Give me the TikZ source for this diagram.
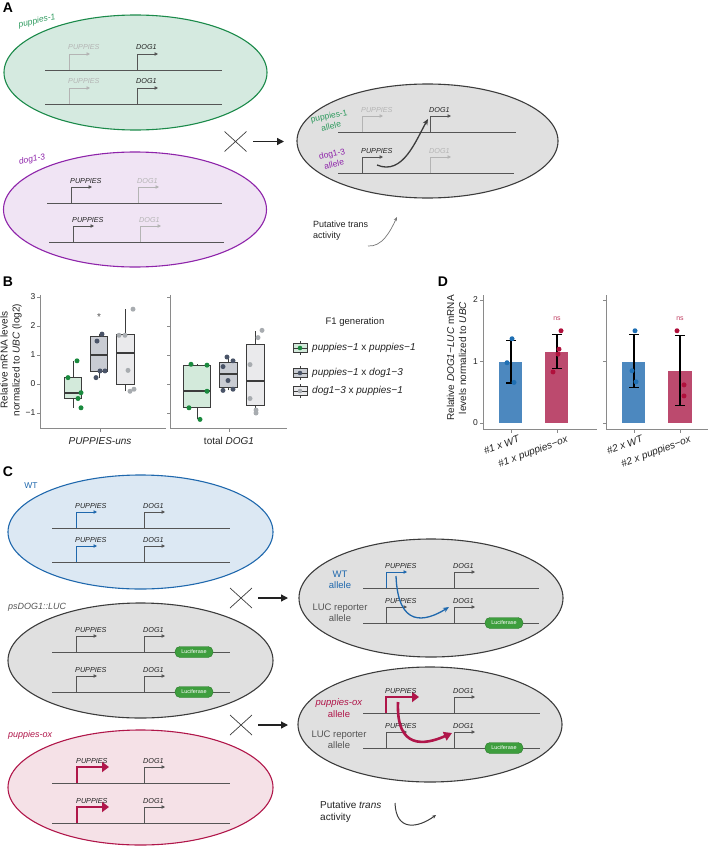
\documentclass[tikz,border=0pt]{standalone}
\usepackage{fontspec}
\setmainfont{Liberation Sans}
\usepackage{tikz}
\usetikzlibrary{arrows.meta,positioning,calc,shapes.geometric}
\definecolor{cGene}{HTML}{555555}
\definecolor{cLight}{HTML}{B4B4B4}
\definecolor{cInk}{HTML}{222222}
\definecolor{cGreen}{HTML}{1B8A4A}
\definecolor{cGreenT}{HTML}{2E9A5E}
\definecolor{cGreenF}{HTML}{D5EAE0}
\definecolor{cPurple}{HTML}{8E24AA}
\definecolor{cPurpleF}{HTML}{F0E4F4}
\definecolor{cBlue}{HTML}{1F68AD}
\definecolor{cBlueF}{HTML}{DCE8F3}
\definecolor{cRed}{HTML}{B0164A}
\definecolor{cRedF}{HTML}{F5E1E7}
\definecolor{cGrayF}{HTML}{E0E0E0}
\definecolor{cEdge}{HTML}{3C3C3C}
\definecolor{cLuc}{HTML}{3E9E3E}
\definecolor{cLucD}{HTML}{2A7A2A}
\definecolor{cAxis}{HTML}{8A8A8A}
\definecolor{ptGreen}{HTML}{1A8A3E}
\definecolor{ptDark}{HTML}{4A5468}
\definecolor{ptLight}{HTML}{A8ACB0}
\definecolor{bxGreen}{HTML}{D3EADB}
\definecolor{bxDark}{HTML}{C9CCD3}
\definecolor{bxLight}{HTML}{EAEAEC}
\definecolor{barBlue}{HTML}{4C88BF}
\definecolor{barRed}{HTML}{BC4A6E}
\definecolor{ptBlue}{HTML}{1F6FB3}
\definecolor{ptRed}{HTML}{B0103C}
\newcommand{\fsz}[1]{\fontsize{#1}{\dimexpr#1*6/5\relax}\selectfont}
\tikzset{
  cell/.style={ellipse,draw=#1,line width=1.1pt,inner sep=0pt},
  gline/.style={draw=cGene,line width=0.9pt},
  pOn/.style={draw=cGene,line width=0.8pt,-{Triangle[length=3.5pt,width=3.5pt]}},
  pOff/.style={pOn,draw=cLight},
  pBlue/.style={pOn,draw=cBlue},
  pRed/.style={draw=cRed,line width=2.4pt,-{Triangle[length=7pt,width=10pt]}},
  glbl/.style={font=\fsz{7.2pt}\itshape,inner sep=0pt},
  pill/.style={draw=cLucD,fill=cLuc,text=white,rounded corners=5pt,minimum width=38pt,minimum height=11pt,inner sep=0pt,font=\fsz{5.5pt}},
  cross/.style={draw=cEdge,line width=0.7pt},
  arr/.style={-{Triangle[length=7pt,width=7pt]},line width=1.3pt,draw=cInk},
  tarr/.style={-{Stealth[length=6pt,width=5pt]},line width=1.3pt,draw=cEdge},
  sarr/.style={-{Stealth[length=4pt,width=3.5pt]},line width=0.7pt,draw=cEdge},
  plbl/.style={font=\fsz{14pt}\bfseries,inner sep=0pt},
  clbl/.style={font=\fsz{8.5pt}\itshape,inner sep=0pt},
  alle/.style={font=\fsz{8.5pt},align=center,inner sep=0pt},
  axis/.style={draw=cAxis,line width=0.8pt},
  tick/.style={font=\fsz{8.5pt},text=cInk,inner sep=0pt},
  atitle/.style={font=\fsz{10pt},text=cInk,inner sep=0pt,align=center},
  boxst/.style={draw=cEdge,line width=0.8pt},
  med/.style={draw=cEdge,line width=1.8pt},
  err/.style={draw=black,line width=1.1pt},
}
% promoter arrow with its gene label
\newcommand{\prom}[7]{%
  \draw[#5] (#2,#3) -- ++(0,-16) -- ++(#4,0);
  \node[glbl,text=#6,anchor=base west] (#1) at (#2-1,#3-20) {#7};}

\begin{document}
\begin{tikzpicture}[x=1pt,y=-1pt]
  \useasboundingbox (0,0) rectangle (709,851);

  % ---------- A ----------
  \node[plbl] (lblA) at (8,8) {A};
  \node[cell=cGreen,fill=cGreenF,minimum width=263pt,minimum height=115pt] (gA1) at (135.5,72.5) {};
  \node[clbl,text=cGreenT,rotate=12] (nPup) at (37,21) {puppies-1};
  \draw[gline] (45,70) -- (222,70);
  \draw[gline] (45,104) -- (222,104);
  \prom{pa1}{69}{70}{21}{pOff}{cLight}{PUPPIES}
  \prom{da1}{137}{70}{21}{pOn}{cInk}{DOG1}
  \prom{pa2}{69}{104}{21}{pOff}{cLight}{PUPPIES}
  \prom{da2}{137}{104}{21}{pOn}{cInk}{DOG1}

  \node[cell=cPurple,fill=cPurpleF,minimum width=263pt,minimum height=115pt] (gA2) at (135,209.5) {};
  \node[clbl,text=cPurple,rotate=12] (nDog) at (32,160) {dog1-3};
  \draw[gline] (47,203) -- (222,203);
  \draw[gline] (49,242) -- (224,242);
  \prom{pa3}{71}{203}{21}{pOn}{cInk}{PUPPIES}
  \prom{da3}{138}{203}{21}{pOff}{cLight}{DOG1}
  \prom{pa4}{73}{242}{21}{pOn}{cInk}{PUPPIES}
  \prom{da4}{140}{242}{21}{pOff}{cLight}{DOG1}

  \coordinate (xA) at (235.5,141.5);
  \draw[cross] ($(xA)+(-11,-10)$) -- ($(xA)+(11,10)$) ($(xA)+(-11,10)$) -- ($(xA)+(11,-10)$);
  \coordinate (aA0) at (253,141.5);
  \coordinate (aA1) at (284,141.5);
  \draw[arr] (aA0) -- (aA1);

  \node[cell=cEdge,fill=cGrayF,minimum width=261pt,minimum height=114pt] (f1A) at (427.5,141) {};
  \draw[gline] (338,132) -- (516,132);
  \draw[gline] (338,173) -- (514,173);
  \prom{pf1}{362}{132}{21}{pOff}{cLight}{PUPPIES}
  \prom{df1}{430}{132}{21}{pOn}{cInk}{DOG1}
  \prom{pf2}{362}{173}{21}{pOn}{cInk}{PUPPIES}
  \prom{df2}{430}{173}{21}{pOff}{cLight}{DOG1}
  \node[alle,text=cGreenT,rotate=12] (alA1) at (330,121) {puppies-1\\allele};
  \node[alle,text=cPurple,rotate=12] (alA2) at (333,159) {dog1-3\\allele};
  \coordinate (tA0) at (377,165);
  \coordinate (tA1) at (428,119);
  \draw[tarr] (tA0) .. controls (403,176) and (416,140) .. (tA1);

  \node[font=\fsz{9pt},align=left,anchor=west,inner sep=0pt,text=cInk] (putA) at (313,231) {Putative trans\\activity};
  \coordinate (sA0) at (368,246);
  \coordinate (sA1) at (397,217);
  \draw[sarr,draw=cEdge!70] (sA0) .. controls (382,247) and (390,232) .. (sA1);

  % ---------- B ----------
  \node[plbl] (lblB) at (8,282) {B};
  \node[atitle,rotate=90] (ytB) at (11,360) {Relative mRNA levels\\normalized to \textit{UBC} (log2)};
  \begin{scope}[shift={(0,384)},y=29pt]
    \draw[axis] (40,3.07) -- (40,-1.52) -- (166,-1.52);
    \draw[axis] (170,3.07) -- (170,-1.52) -- (287,-1.52);
    \foreach \v/\t in {-1/−1,0/0,1/1,2/2,3/3}{
      \draw[axis] (37,\v) -- (40,\v);
      \draw[axis] (167,\v) -- (170,\v);
      \node[tick,anchor=east] (tb\v) at (35.5,\v) {\t};
    }
    \draw[axis] (100,-1.52) -- (100,-1.65);
    \draw[axis] (229,-1.52) -- (229,-1.65);
    \foreach \bx/\hw/\ql/\qm/\qh/\wl/\wh/\bc in {
        73/8.5/-0.5/-0.3/0.22/-0.82/0.8/bxGreen,
        99/8.5/0.45/1.0/1.65/0.22/1.72/bxDark,
        125/9/0.0/1.07/1.7/-0.25/2.58/bxLight,
        197/13.5/-0.8/-0.25/0.65/-1.22/0.68/bxGreen,
        228/9/-0.1/0.35/0.75/-0.22/0.93/bxDark,
        255/9/-0.75/0.1/1.38/-1.0/1.82/bxLight}{
      \draw[boxst] (\bx,\wl) -- (\bx,\ql) (\bx,\qh) -- (\bx,\wh);
      \draw[boxst,fill=\bc] (\bx-\hw,\ql) rectangle (\bx+\hw,\qh);
      \draw[med] (\bx-\hw,\qm) -- (\bx+\hw,\qm);
    }
    \foreach \px/\py/\pc in {
        77/0.8/ptGreen,68/0.22/ptGreen,81/-0.3/ptGreen,78/-0.5/ptGreen,81/-0.82/ptGreen,
        102/1.72/ptDark,97/1.48/ptDark,100/0.45/ptDark,105/0.45/ptDark,96/0.22/ptDark,
        133/2.58/ptLight,119/1.68/ptLight,125/1.68/ptLight,128/0.47/ptLight,134/-0.18/ptLight,130/-0.25/ptLight,
        191/0.68/ptGreen,207/0.65/ptGreen,207/-0.25/ptGreen,189/-0.82/ptGreen,200/-1.22/ptGreen,
        227/0.93/ptDark,233/0.8/ptDark,223/0.6/ptDark,228/0.12/ptDark,233/-0.18/ptDark,223/-0.22/ptDark,
        262/1.85/ptLight,258/1.6/ptLight,250/0.67/ptLight,250/-0.5/ptLight,256/-0.9/ptLight,256/-1.0/ptLight}{
      \fill[\pc] (\px,\py) circle (2.5pt);
    }
    \node[font=\fsz{10pt},text=cGene,inner sep=0pt] (star) at (99,2.3) {*};
  \end{scope}
  \node[atitle,font=\fsz{10pt}\itshape] (xb1) at (100,441) {PUPPIES-uns};
  \node[atitle] (xb2) at (229,441) {total \textit{DOG1}};

  \node[atitle,font=\fsz{9.5pt}] (legT) at (355,322) {F1 generation};
  \foreach \ly/\lc/\lp/\lt in {348/bxGreen/ptGreen/{\textit{puppies−1} x \textit{puppies−1}},
                               373/bxDark/ptDark/{\textit{puppies−1} x \textit{dog1−3}},
                               391/bxLight/ptLight/{\textit{dog1−3} x \textit{puppies−1}}}{
    \draw[boxst] (300,\ly-7) -- (300,\ly+7);
    \draw[boxst,fill=\lc] (293,\ly-4.5) rectangle (307,\ly+4.5);
    \draw[boxst] (293,\ly) -- (307,\ly);
    \fill[\lp] (300,\ly) circle (2.3pt);
    \node[atitle,anchor=west] (leg\ly) at (312,\ly) {\lt};
  }

  % ---------- D ----------
  \node[plbl] (lblD) at (443,282) {D};
  \node[atitle,rotate=90] (ytD) at (456.5,358) {Relative \textit{DOG1−LUC} mRNA\\levels normalized to \textit{UBC}};
  \begin{scope}[shift={(0,423)},y=61.5pt]
    \draw[axis] (483,2.08) -- (483,-0.1) -- (597,-0.1);
    \draw[axis] (606,2.08) -- (606,-0.1) -- (708,-0.1);
    \foreach \v in {0,1,2}{
      \draw[axis] (480,\v) -- (483,\v);
      \draw[axis] (603,\v) -- (606,\v);
      \node[tick,anchor=east] (td\v) at (478,\v) {\v};
    }
    \foreach \tx in {511,557,634,680}{
      \draw[axis] (\tx,-0.1) -- (\tx,-0.16);
    }
    \foreach \xa/\xb/\h/\c in {499/522/1.0/barBlue,545/568/1.16/barRed,622/645/1.0/barBlue,668/692/0.85/barRed}{
      \fill[\c] (\xa,0) rectangle (\xb,\h);
    }
    \foreach \ex/\el/\eh in {511/0.65/1.34,557/0.88/1.44,634/0.57/1.44,680/0.28/1.42}{
      \draw[err] (\ex,\el) -- (\ex,\eh) (\ex-5,\el) -- (\ex+5,\el) (\ex-5,\eh) -- (\ex+5,\eh);
    }
    \foreach \px/\py/\pc in {
        512/1.37/ptBlue,507/0.98/ptBlue,514/0.66/ptBlue,
        561/1.5/ptRed,559/1.2/ptRed,558/1.12/ptRed,553/0.83/ptRed,
        635/1.5/ptBlue,632/0.85/ptBlue,636/0.67/ptBlue,
        677/1.5/ptRed,684/0.62/ptRed,684/0.44/ptRed}{
      \fill[\pc] (\px,\py) circle (2.5pt);
    }
    \node[font=\fsz{7pt},text=ptRed!80,inner sep=0pt] (ns1) at (557,1.69) {ns};
    \node[font=\fsz{7pt},text=ptRed!80,inner sep=0pt] (ns2) at (680,1.69) {ns};
  \end{scope}
  \node[atitle,font=\fsz{10pt}\itshape,rotate=20,anchor=north east] (xd1) at (518,435) {\#1 x WT};
  \node[atitle,font=\fsz{10pt}\itshape,rotate=20,anchor=north east] (xd2) at (566,435) {\#1 x puppies−ox};
  \node[atitle,font=\fsz{10pt}\itshape,rotate=20,anchor=north east] (xd3) at (641,435) {\#2 x WT};
  \node[atitle,font=\fsz{10pt}\itshape,rotate=20,anchor=north east] (xd4) at (689,435) {\#2 x puppies−ox};

  % ---------- C ----------
  \node[plbl] (lblC) at (8,472) {C};
  \node[cell=cBlue,fill=cBlueF,minimum width=265pt,minimum height=114pt] (cWT) at (140.5,532) {};
  \node[font=\fsz{8.5pt},text=cBlue,inner sep=0pt] (nWT) at (31,486) {WT};
  \draw[gline] (52,528) -- (230,528);
  \draw[gline] (52,562) -- (230,562);
  \prom{pw1}{76}{528}{21}{pBlue}{cInk}{PUPPIES}
  \prom{dw1}{144}{528}{21}{pOn}{cInk}{DOG1}
  \prom{pw2}{76}{562}{21}{pBlue}{cInk}{PUPPIES}
  \prom{dw2}{144}{562}{21}{pOn}{cInk}{DOG1}

  \node[cell=cEdge,fill=cGrayF,minimum width=265pt,minimum height=115pt] (cLUC) at (140.5,660.5) {};
  \node[clbl,font=\fsz{9pt}\itshape,text=cGene,anchor=west] (nLUC) at (8,607) {psDOG1::LUC};
  \draw[gline] (52,652) -- (230,652);
  \draw[gline] (52,692) -- (230,692);
  \prom{pl1}{76}{652}{21}{pOn}{cInk}{PUPPIES}
  \prom{dl1}{144}{652}{21}{pOn}{cInk}{DOG1}
  \prom{pl2}{76}{692}{21}{pOn}{cInk}{PUPPIES}
  \prom{dl2}{144}{692}{21}{pOn}{cInk}{DOG1}
  \node[pill] (luc1) at (194,652) {Luciferase};
  \node[pill] (luc2) at (194,692) {Luciferase};

  \node[cell=cRed,fill=cRedF,minimum width=265pt,minimum height=115pt] (cOX) at (140.5,787.5) {};
  \node[clbl,font=\fsz{9pt}\itshape,text=cRed,anchor=west] (nOX) at (8,735) {puppies-ox};
  \draw[gline] (52,783) -- (230,783);
  \draw[gline] (52,823) -- (230,823);
  \prom{po1}{77}{783}{32}{pRed}{cInk}{PUPPIES}
  \prom{do1}{144}{783}{21}{pOn}{cInk}{DOG1}
  \prom{po2}{77}{823}{32}{pRed}{cInk}{PUPPIES}
  \prom{do2}{144}{823}{21}{pOn}{cInk}{DOG1}

  \coordinate (xC1) at (241,598);
  \draw[cross] ($(xC1)+(-11,-10)$) -- ($(xC1)+(11,10)$) ($(xC1)+(-11,10)$) -- ($(xC1)+(11,-10)$);
  \coordinate (aC10) at (258,598);
  \coordinate (aC11) at (288,598);
  \draw[arr] (aC10) -- (aC11);
  \coordinate (xC2) at (241,725);
  \draw[cross] ($(xC2)+(-11,-10)$) -- ($(xC2)+(11,10)$) ($(xC2)+(-11,10)$) -- ($(xC2)+(11,-10)$);
  \coordinate (aC20) at (258,725);
  \coordinate (aC21) at (288,725);
  \draw[arr] (aC20) -- (aC21);

  \node[cell=cEdge,fill=cGrayF,minimum width=264pt,minimum height=118pt] (fC1) at (431,598) {};
  \draw[gline] (363,588) -- (539,588);
  \draw[gline] (363,623) -- (539,623);
  \prom{pc1}{386}{588}{21}{pBlue}{cInk}{PUPPIES}
  \prom{dc1}{454}{588}{21}{pOn}{cInk}{DOG1}
  \prom{pc2}{386}{623}{21}{pOn}{cInk}{PUPPIES}
  \prom{dc2}{454}{623}{21}{pOn}{cInk}{DOG1}
  \node[pill] (luc3) at (504,623) {Luciferase};
  \node[alle,font=\fsz{9.5pt},text=cBlue] (alC1) at (340,580) {WT\\allele};
  \node[alle,font=\fsz{9.5pt},text=cGene] (alC2) at (340,613) {LUC reporter\\allele};
  \coordinate (tC10) at (396,576);
  \coordinate (tC11) at (449,607);
  \draw[tarr,draw=cBlue] (tC10) .. controls (398,628) and (425,622) .. (tC11);

  \node[cell=cEdge,fill=cGrayF,minimum width=264pt,minimum height=115pt] (fC2) at (430,724.5) {};
  \draw[gline] (363,713) -- (540,713);
  \draw[gline] (363,748) -- (540,748);
  \prom{pc3}{386}{713}{33}{pRed}{cInk}{PUPPIES}
  \prom{dc3}{454}{713}{21}{pOn}{cInk}{DOG1}
  \prom{pc4}{386}{748}{21}{pOn}{cInk}{PUPPIES}
  \prom{dc4}{454}{748}{21}{pOn}{cInk}{DOG1}
  \node[pill] (luc4) at (504,748) {Luciferase};
  \node[alle,font=\fsz{9.5pt},text=cRed] (alC3) at (339,708) {\textit{puppies-ox}\\allele};
  \node[alle,font=\fsz{9.5pt},text=cGene] (alC4) at (339,740) {LUC reporter\\allele};
  \coordinate (tC20) at (398,702);
  \coordinate (tC21) at (452,733);
  \draw[draw=cRed,line width=2.6pt,-{Triangle[length=8pt,width=9pt]}] (tC20) .. controls (396,750) and (425,745) .. (tC21);

  \node[font=\fsz{10pt},align=left,anchor=west,inner sep=0pt,text=cInk] (putC) at (320,812) {Putative \textit{trans}\\activity};
  \coordinate (sC0) at (395,803);
  \coordinate (sC1) at (436,815);
  \draw[sarr,line width=1pt] (sC0) .. controls (396,832) and (418,828) .. (sC1);
\end{tikzpicture}
\end{document}
